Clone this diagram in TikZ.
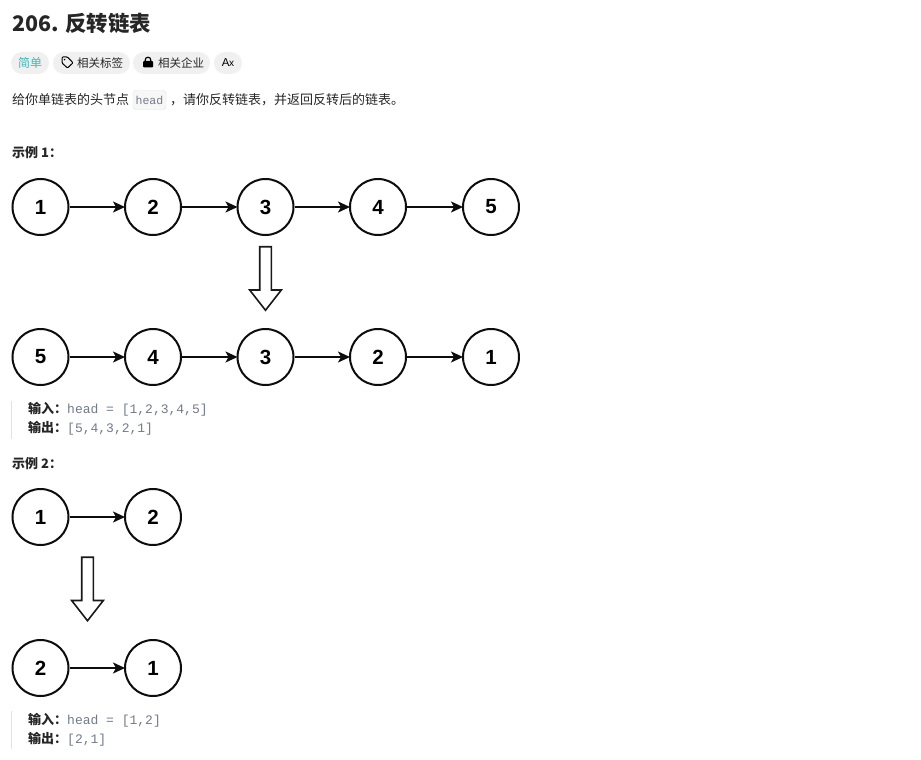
\documentclass[tikz,border=0pt]{standalone}
\usepackage{fontspec}
\setmainfont{Noto Sans CJK SC}
\setmonofont{Liberation Mono}
\newfontfamily\numfont{Liberation Sans}
\usetikzlibrary{arrows.meta,shapes.arrows}
\definecolor{ink}{HTML}{262626}
\definecolor{muted}{HTML}{737B88}
\definecolor{teal}{HTML}{3FB8BE}
\definecolor{pill}{HTML}{F0F0F0}
\definecolor{codebg}{HTML}{F7F7F8}
\definecolor{line}{HTML}{E3E3E3}
\newcommand{\pxfont}[1]{\fontsize{#1}{#1}\selectfont}
\tikzset{
  listnode/.style={draw=black!95, fill=white, circle, line width=2pt, minimum size=56pt,
                   inner sep=0pt, font=\numfont\pxfont{20.5}\bfseries},
  ar/.style={-{Stealth[length=12pt,width=11pt,inset=3pt]}, line width=1.5pt, draw=black!95, shorten >=-1pt},
  downarrow/.style={draw=black!90, fill=white, single arrow, line width=1.6pt, shape border rotate=270,
                    minimum height=63.5pt, minimum width=30pt, single arrow head extend=10pt,
                    single arrow tip angle=76, inner sep=5pt},
  txt/.style={anchor=base west, inner sep=0pt, text=ink, font=\pxfont{13}},
  bold/.style={txt, font=\pxfont{13}\bfseries},
  mono/.style={anchor=base west, inner sep=0pt, text=muted, font=\ttfamily\pxfont{13}},
  pillbox/.style={fill=pill, rounded corners=11pt, minimum height=22pt, inner sep=0pt},
  quoteline/.style={draw=line, line width=1.2pt}
}
\begin{document}
\begin{tikzpicture}[x=1pt,y=-1pt]
  \useasboundingbox[fill=white] (0,0) rectangle (921,760);

  % heading
  \node[txt, font=\pxfont{21.4}\bfseries] (title) at (12,32) {206. 反转链表};

  \node[pillbox, minimum width=38pt] (easy) at (30,63) {};
  \node[anchor=center, inner sep=0pt, text=teal, font=\pxfont{12}] (easytxt) at (30,62.5) {简单};
  \node[pillbox, minimum width=77pt] (tags) at (91.5,63) {};
  \node[txt, font=\pxfont{11.5}] (tagstxt) at (77,67) {相关标签};
  \node[pillbox, minimum width=77pt] (corp) at (171.5,63) {};
  \node[txt, font=\pxfont{11.5}] (corptxt) at (158,67) {相关企业};
  \node[pillbox, minimum width=28pt] (lang) at (228,63) {};
  \node[anchor=center, inner sep=0pt, font=\numfont\pxfont{11.5}] (langtxt) at (228,62.5) {A\kern-0.5pt{\pxfont{10}x}};

  % tag and lock icons
  \draw[line width=1pt, rounded corners=1pt, line join=round] (62,57) -- (67.5,57) -- (73,62.8) -- (67.5,68) -- (62,63) -- cycle;
  \fill (64.6,59.6) circle (0.9pt);
  \fill[black, rounded corners=1pt] (143,61) rectangle (153,67.5);
  \draw[line width=1.2pt] (145.2,61.5) -- (145.2,60) arc[start angle=180, end angle=0, radius=2.8pt] -- (150.8,61.5);

  % statement
  \node[txt] (intro) at (12,104) {给你单链表的头节点};
  \node[draw=line, fill=codebg, rounded corners=3pt, minimum width=33pt, minimum height=19pt, inner sep=0pt] (headbox) at (149.5,100) {};
  \node[anchor=center, inner sep=0pt, text=muted, font=\ttfamily\pxfont{11.5}] (headtxt) at (149.5,100) {head};
  \node[txt] (rest) at (170,104) {，请你反转链表，并返回反转后的链表。};

  % example 1
  \node[bold] (exa) at (12,157) {示例 1：};

  \node[listnode] (a1) at (40.5,207) {1};
  \node[listnode] (a2) at (153,207) {2};
  \node[listnode] (a3) at (265.5,207) {3};
  \node[listnode] (a4) at (378,207) {4};
  \node[listnode] (a5) at (491,207) {5};
  \draw[ar] (a1) -- (a2);
  \draw[ar] (a2) -- (a3);
  \draw[ar] (a3) -- (a4);
  \draw[ar] (a4) -- (a5);

  \node[downarrow] (downa) at (265.5,274.8) {};

  \node[listnode] (b5) at (40.5,357) {5};
  \node[listnode] (b4) at (153,357) {4};
  \node[listnode] (b3) at (265.5,357) {3};
  \node[listnode] (b2) at (378,357) {2};
  \node[listnode] (b1) at (491,357) {1};
  \draw[ar] (b5) -- (b4);
  \draw[ar] (b4) -- (b3);
  \draw[ar] (b3) -- (b2);
  \draw[ar] (b2) -- (b1);

  \draw[quoteline] (11.5,401) -- (11.5,439);
  \node[bold] (ina) at (28,413) {输入：};
  \node[mono] (inav) at (67,413) {head = [1,2,3,4,5]};
  \node[bold] (outa) at (28,432) {输出：};
  \node[mono] (outav) at (67,432) {[5,4,3,2,1]};

  % example 2
  \node[bold] (exb) at (12,468) {示例 2：};

  \node[listnode] (c1) at (40.5,517) {1};
  \node[listnode] (c2) at (153,517) {2};
  \draw[ar] (c1) -- (c2);

  \node[downarrow] (downb) at (87.5,585.3) {};

  \node[listnode] (d2) at (40.5,668) {2};
  \node[listnode] (d1) at (153,668) {1};
  \draw[ar] (d2) -- (d1);

  \draw[quoteline] (11.5,711) -- (11.5,749);
  \node[bold] (inb) at (28,724) {输入：};
  \node[mono] (inbv) at (67,724) {head = [1,2]};
  \node[bold] (outb) at (28,743) {输出：};
  \node[mono] (outbv) at (67,743) {[2,1]};
\end{tikzpicture}
\end{document}
